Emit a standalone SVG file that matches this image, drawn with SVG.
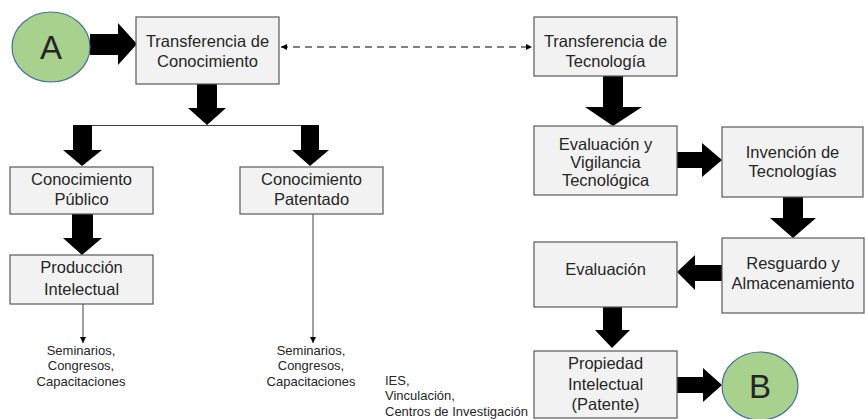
<svg xmlns="http://www.w3.org/2000/svg" width="866" height="419" viewBox="0 0 866 419">
<style>
.box{fill:#f2f2f2;stroke:#595959;stroke-width:1.2}
.t{font-family:"Liberation Sans",Arial,sans-serif;font-size:16.5px;fill:#262626;text-anchor:middle}
.s{font-family:"Liberation Sans",Arial,sans-serif;font-size:13px;fill:#262626}
.c{fill:#a9d18e;stroke:#41719c;stroke-width:1.2}
.big{font-family:"Liberation Sans",Arial,sans-serif;font-size:33px;fill:#262626;text-anchor:middle}
.fat{fill:#000}
.thin{stroke:#404040;stroke-width:1;fill:none}
</style>
<defs>
<marker id="ah" viewBox="0 0 8 8" refX="8" refY="4" markerWidth="6" markerHeight="6" markerUnits="userSpaceOnUse" orient="auto-start-reverse">
<path d="M0,0 L8,4 L0,8 Z" fill="#000"/>
</marker>
</defs>
<g id="connectors">
<polygon class="fat" points="90,34 118,34 118,23 137,44 118,65 118,55 90,55"/>
<polygon class="fat" points="197,84 217,84 217,108 226,108 207,125 188,108 197,108"/>
<line class="thin" x1="73" y1="125.5" x2="319" y2="125.5" stroke="#595959"/>
<polygon class="fat" points="73,125 92,125 92,150 102,150 82,166 63,150 73,150"/>
<polygon class="fat" points="301,125 319,125 319,150 329,150 310,166 292,150 301,150"/>
<polygon class="fat" points="72,214 93,214 93,238 102,238 82,255 63,238 72,238"/>
<line class="thin" x1="83" y1="304" x2="83" y2="343" marker-end="url(#ah)"/>
<line class="thin" x1="313" y1="214" x2="313" y2="343" marker-end="url(#ah)"/>
<line x1="281" y1="47" x2="532" y2="47" stroke="#000" stroke-width="1" stroke-dasharray="7,5" marker-start="url(#ah)" marker-end="url(#ah)"/>
<polygon class="fat" points="603,76 623,76 623,107 642,107 613,126 585,107 603,107"/>
<polygon class="fat" points="677,152 702,152 702,143 722,160 702,177 702,168 677,168"/>
<polygon class="fat" points="783,197 803,197 803,218 816,218 793,238 770,218 783,218"/>
<polygon class="fat" points="722,265 695,265 695,255 677,272 695,290 695,281 722,281"/>
<polygon class="fat" points="603,307 622,307 622,330 630,330 612,348 595,330 603,330"/>
<polygon class="fat" points="677,377 703,377 703,368 722,385 703,402 703,393 677,393"/>
</g>
<g id="nodeA">
<ellipse class="c" cx="51" cy="47" rx="39" ry="35"/>
<text class="big" x="51" y="59">A</text>
</g>
<g id="transferencia-conocimiento">
<rect class="box" x="136" y="17" width="143" height="67"/>
<text class="t" x="207.5" y="47">Transferencia de</text>
<text class="t" x="207.5" y="67">Conocimiento</text>
</g>
<g id="transferencia-tecnologia">
<rect class="box" x="534" y="17" width="143" height="59"/>
<text class="t" x="605.5" y="47">Transferencia de</text>
<text class="t" x="605.5" y="67">Tecnología</text>
</g>
<g id="conocimiento-publico">
<rect class="box" x="10" y="167" width="143" height="47"/>
<text class="t" x="81.5" y="185">Conocimiento</text>
<text class="t" x="81.5" y="205">Público</text>
</g>
<g id="conocimiento-patentado">
<rect class="box" x="240" y="167" width="143" height="47"/>
<text class="t" x="311.5" y="185">Conocimiento</text>
<text class="t" x="311.5" y="205">Patentado</text>
</g>
<g id="produccion-intelectual">
<rect class="box" x="10" y="255" width="143" height="49"/>
<text class="t" x="81.5" y="273">Producción</text>
<text class="t" x="81.5" y="295">Intelectual</text>
</g>
<g id="seminarios-1">
<text class="s" text-anchor="middle" x="81" y="355">Seminarios,</text>
<text class="s" text-anchor="middle" x="81" y="370">Congresos,</text>
<text class="s" text-anchor="middle" x="81" y="386">Capacitaciones</text>
</g>
<g id="seminarios-2">
<text class="s" text-anchor="middle" x="311" y="355">Seminarios,</text>
<text class="s" text-anchor="middle" x="311" y="370">Congresos,</text>
<text class="s" text-anchor="middle" x="311" y="386">Capacitaciones</text>
</g>
<g id="ies">
<text class="s" x="385" y="385">IES,</text>
<text class="s" x="385" y="400">Vinculación,</text>
<text class="s" x="385" y="416">Centros de Investigación</text>
</g>
<g id="evaluacion-vigilancia">
<rect class="box" x="534" y="126" width="143" height="69"/>
<text class="t" x="605.5" y="150">Evaluación y</text>
<text class="t" x="605.5" y="168">Vigilancia</text>
<text class="t" x="605.5" y="186">Tecnológica</text>
</g>
<g id="invencion">
<rect class="box" x="722" y="127" width="141" height="70"/>
<text class="t" x="792.5" y="158">Invención de</text>
<text class="t" x="792.5" y="177">Tecnologías</text>
</g>
<g id="resguardo">
<rect class="box" x="722" y="238" width="142" height="75"/>
<text class="t" x="793" y="269">Resguardo y</text>
<text class="t" x="793" y="289">Almacenamiento</text>
</g>
<g id="evaluacion">
<rect class="box" x="534" y="242" width="143" height="65"/>
<text class="t" x="605.5" y="275">Evaluación</text>
</g>
<g id="propiedad">
<rect class="box" x="534" y="351" width="143" height="67"/>
<text class="t" x="605.5" y="369">Propiedad</text>
<text class="t" x="605.5" y="390">Intelectual</text>
<text class="t" x="605.5" y="410">(Patente)</text>
</g>
<g id="nodeB">
<ellipse class="c" cx="760" cy="386" rx="38" ry="34"/>
<text class="big" x="760" y="398">B</text>
</g>
</svg>
